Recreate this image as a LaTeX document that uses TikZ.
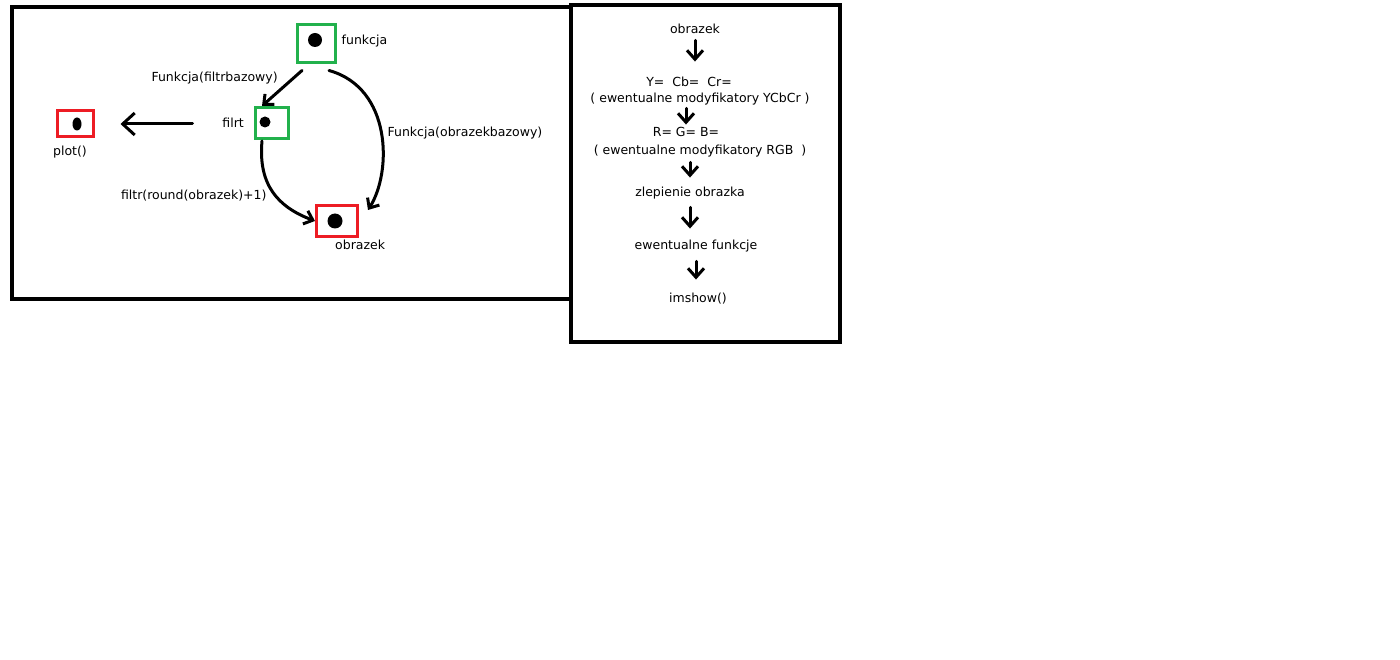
\documentclass[tikz,border=0pt]{standalone}
\usepackage{fontspec}
\setmainfont{DejaVu Sans}
\usetikzlibrary{positioning,calc,shapes.geometric,arrows.meta}

\definecolor{paintgreen}{RGB}{34,177,76}
\definecolor{paintred}{RGB}{237,28,36}

\begin{document}
\begin{tikzpicture}[
  x=1pt,y=-1pt,
  every node/.style={
    font=\fontsize{12.5}{15}\selectfont,
    inner sep=0pt,
  },
  ]
  \useasboundingbox (0,0) rectangle (1400,660);
  % frames
  \draw [line width=4.5pt] (12,7) rectangle (571,299);
  \draw [line width=4.5pt] (571,5) rectangle (840,342);
  \begin{scope}[
    greenbox/.style={
      draw=paintgreen,
      line width=3pt,
    },
    redbox/.style={
      draw=paintred,
      line width=3pt,
    },
    blob/.style={
      circle,
      fill=black,
    },
    myarrow/.style={
      -{Straight Barb[length=8pt,width=14pt]},
      line width=3pt,
      line cap=round,
    },
    ]
    % funkcja
    \node [greenbox,minimum size=38pt] (funkcja) at (316,44) {};
    \node [blob,minimum size=14pt] (funkcjadot) at (315,40) {};
    \node [right=5pt of funkcja,yshift=3pt] (funkcjatext) {funkcja};

    % filrt
    \node [greenbox,minimum width=33pt,minimum height=31pt] (filrt) at (272,123) {};
    \node [blob,minimum size=11pt] (filrtdot) at (265,122) {};
    \node [left=10pt of filrt] (filrttext) {filrt};

    % plot
    \node [redbox,minimum width=36pt,minimum height=26pt] (plot) at (75,124) {};
    \node [blob,ellipse,minimum width=9pt,minimum height=13pt] (plotdot) at (77,124) {};
    \node [below=7pt of plot,xshift=-5pt] (plottext) {plot()};

    % obrazek
    \node [redbox,minimum width=41pt,minimum height=31pt] (obrazek) at (337,221) {};
    \node [blob,minimum size=15pt] (obrazekdot) at (335,221) {};
    \node [below right=2pt and -2pt of obrazek.south] (obrazektext) {obrazek};

    % Path plot
    \coordinate [right=98pt of plot.east] (plottail);
    \draw [myarrow,-{Straight Barb[length=12pt,width=22pt]},shorten >=26pt] (plottail) -- (plot);

    % Path funkcja
    \draw [myarrow] ($(funkcja.south)+(-14,6)$) -- node [pos=0.22,left=14pt] {Funkcja(filtrbazowy)} ($(filrt.north west)+(8,0)$);
    \draw [myarrow] ($(funkcja.south)+(13,6)$) .. controls (392,88) and (392,172) .. node [pos=0.5,right=5pt] {Funkcja(obrazekbazowy)} ($(obrazek.north east)+(9,6)$);

    % Path filrt
    \draw [myarrow] ($(filrt.south west)+(8,1)$) .. controls (258,185) and (278,207) .. node [pos=0.55,left=8pt] {filtr(round(obrazek)+1)} (obrazek.west);
  \end{scope}
  \begin{scope}[
    every node/.append style={
      text height=9.5pt,
      text depth=3pt,
    },
    flowarrow/.style={
      -{Straight Barb[length=9pt,width=16pt]},
      line width=3pt,
      line cap=round,
    },
    ]
    % flow
    \node (robrazek) at (695,30) {obrazek};
    \node (ycc) at (689,83) {Y=\ \ Cb=\ \ Cr=};
    \node (yccmod) at (700,99) {( ewentualne modyfikatory YCbCr )};
    \node (rgb) at (686,133) {R= G= B=};
    \node (rgbmod) at (700,151) {( ewentualne modyfikatory RGB\ \ )};
    \node (zlepienie) at (690,193) {zlepienie obrazka};
    \node (funkcje) at (696,246) {ewentualne funkcje};
    \node (imshow) at (698,299) {imshow()};

    \draw [flowarrow,shorten <=4pt,shorten >=15pt] (robrazek) -- (robrazek |- ycc.north);
    \draw [flowarrow,shorten <=3pt,shorten >=2pt] (yccmod.south -| rgb) -- (rgb);
    \draw [flowarrow,shorten <=5pt,shorten >=9pt] (rgbmod.south -| zlepienie) -- (zlepienie);
    \draw [flowarrow,shorten <=8pt,shorten >=11pt] (zlepienie) -- (zlepienie |- funkcje.north);
    \draw [flowarrow,shorten <=9pt,shorten >=13pt] (funkcje) -- (funkcje |- imshow.north);
  \end{scope}
\end{tikzpicture}
\end{document}
